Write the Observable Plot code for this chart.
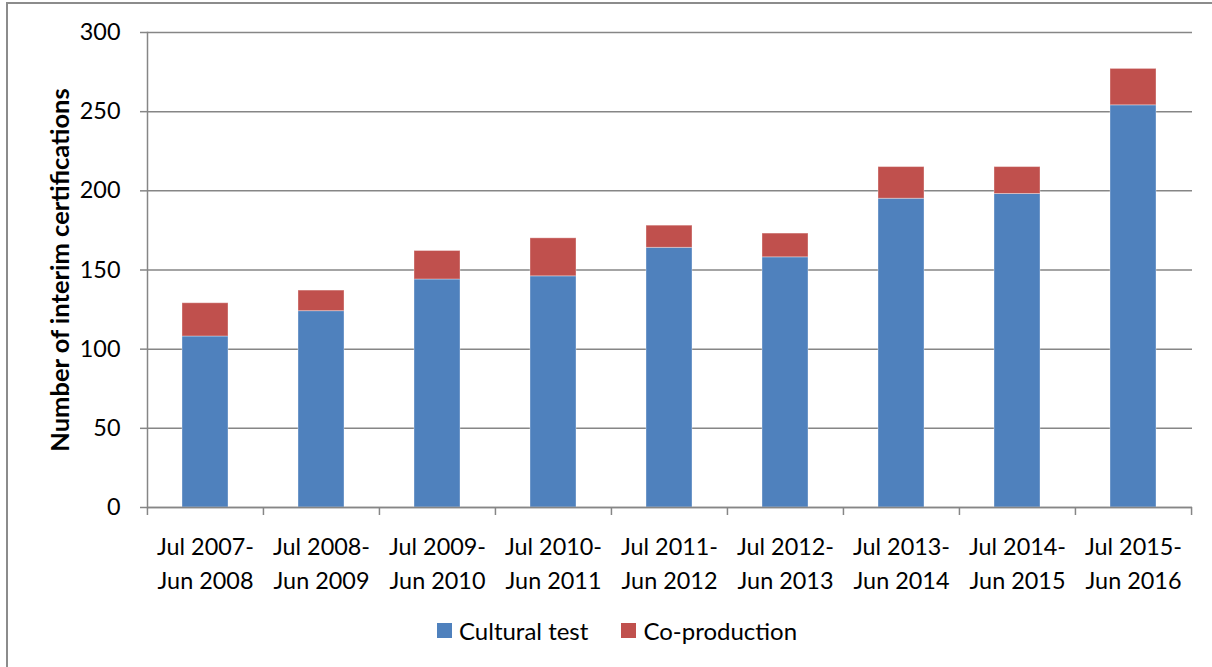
<!DOCTYPE html>
<html>
<head>
<meta charset="utf-8">
<script src="https://cdn.jsdelivr.net/npm/d3@7"></script>
<script src="https://cdn.jsdelivr.net/npm/@observablehq/plot@0.6"></script>
<style>
  html, body { margin: 0; padding: 0; background: #fff; overflow: hidden; }
  #wrap { position: relative; width: 1212px; height: 667px; font-family: Lato, "Open Sans", sans-serif; }
  #border { position: absolute; left: 6px; top: 2px; width: 1300px; height: 800px; border-left: 2px solid #8c8c8c; border-top: 2px solid #8c8c8c; }
  #chart { position: absolute; left: 0; top: 0; }
  #legend { position: absolute; left: 437px; top: 615px; height: 30px; display: flex; align-items: center; font-size: 24px; color: #000; }
  .sw { width: 15px; height: 15px; display: inline-block; margin-right: 7px; }
  .item { display: flex; align-items: center; margin-right: 33px; }
</style>
</head>
<body>
<div id="wrap">
  <div id="border"></div>
  <div id="chart"></div>
  <div id="legend"></div>
</div>
<script>
const periods = [
  "Jul 2007-\nJun 2008", "Jul 2008-\nJun 2009", "Jul 2009-\nJun 2010",
  "Jul 2010-\nJun 2011", "Jul 2011-\nJun 2012", "Jul 2012-\nJun 2013",
  "Jul 2013-\nJun 2014", "Jul 2014-\nJun 2015", "Jul 2015-\nJun 2016"
];
const seriesNames = ["Cultural test", "Co-production"];
const culturalTest = [108, 124, 144, 146, 164, 158, 195, 198, 254];
const coProduction = [21, 13, 18, 24, 14, 15, 20, 17, 23];
const seriesColors = ["#4F81BD", "#C0504D"];
const yTicks = [0, 50, 100, 150, 200, 250, 300];
const yLabel = "Number of interim certifications";

const rows = [];
periods.forEach((p, i) => {
  rows.push({period: p, series: seriesNames[0], value: culturalTest[i]});
  rows.push({period: p, series: seriesNames[1], value: coProduction[i]});
});

const W = 1212, H = 600, ML = 147, MR = 20, MT = 32, MB = 93;
const half = (W - ML - MR) / periods.length / 2;
const gray = "#868686";
const FS = 23.4;

const chart = Plot.plot({
  width: W, height: H,
  marginLeft: ML, marginRight: MR, marginTop: MT, marginBottom: MB,
  style: {fontFamily: "Lato, 'Open Sans', sans-serif", fontSize: FS + "px", color: "#000", background: "transparent"},
  x: {domain: periods, paddingInner: 0.6, paddingOuter: 0.3, align: 0.5},
  y: {domain: [0, 300]},
  color: {domain: seriesNames, range: seriesColors},
  marks: [
    Plot.gridY(yTicks, {stroke: gray, strokeOpacity: 1, strokeWidth: 1.5}),
    Plot.barY(rows, Plot.stackY({x: "period", y: "value", fill: "series", order: seriesNames, stroke: "#fff", strokeOpacity: 0.35, strokeWidth: 1})),
    Plot.ruleY([0], {stroke: gray, strokeWidth: 1.5}),
    Plot.frame({anchor: "left", stroke: gray, strokeWidth: 1.5}),
    Plot.axisY({ticks: yTicks, tickSize: 7, tickPadding: 20, stroke: gray, strokeWidth: 1.5, fill: "#000", fontSize: FS,
      label: yLabel, labelAnchor: "center", labelArrow: "none", labelOffset: 97}),
    Plot.axisX({tickSize: 0, tickPadding: 24, fontSize: FS, fill: "#000", lineHeight: 1.43, label: null,
      tickFormat: d => d}),
    Plot.axisX({ticks: periods, tickSize: 8, dx: -half, tickFormat: () => "", label: null, stroke: gray, strokeWidth: 1.5}),
    Plot.axisX({ticks: periods.slice(-1), tickSize: 8, dx: half, tickFormat: () => "", label: null, stroke: gray, strokeWidth: 1.5})
  ]
});
document.getElementById("chart").appendChild(chart);

// bold, larger y label
chart.querySelectorAll("g[aria-label='y-axis label']").forEach(el => {
  el.setAttribute("font-weight", "bold");
  el.setAttribute("font-size", "25.5");
});

const legend = document.getElementById("legend");
seriesNames.forEach((s, i) => {
  const item = document.createElement("div");
  item.className = "item";
  const sw = document.createElement("span");
  sw.className = "sw";
  sw.style.background = seriesColors[i];
  const t = document.createElement("span");
  t.textContent = s;
  item.appendChild(sw);
  item.appendChild(t);
  legend.appendChild(item);
});
</script>
</body>
</html>
